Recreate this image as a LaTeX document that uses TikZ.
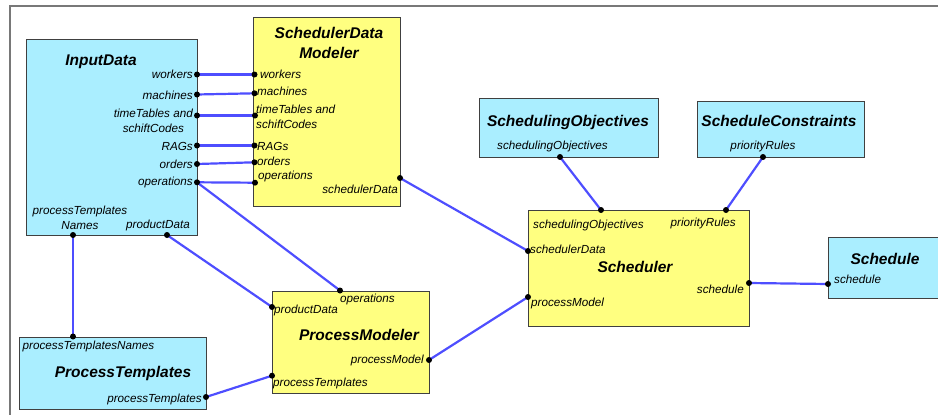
\documentclass[tikz,border=0pt]{standalone}
\usepackage{fontspec}
\setmainfont{Liberation Sans}
\definecolor{boxcyan}{RGB}{170,238,255}
\definecolor{boxyellow}{RGB}{255,255,128}
\definecolor{wireblue}{RGB}{78,78,255}
\definecolor{framegray}{RGB}{120,120,120}
\begin{document}
\begin{tikzpicture}[x=1pt,y=-1pt,
  blockbox/.style={draw=black!75,line width=1pt,anchor=north west,inner sep=0pt},
  cyanbox/.style={blockbox,fill=boxcyan},
  yellowbox/.style={blockbox,fill=boxyellow},
  lbl/.style={inner sep=0pt,font=\fontsize{11.7}{15}\selectfont\itshape},
  ttl/.style={inner sep=0pt,font=\fontsize{15.5}{20}\selectfont\bfseries\itshape},
  wire/.style={draw=wireblue,line width=2.2pt},
  portdot/.style={circle,fill=black,inner sep=0pt,minimum size=6pt}]
\useasboundingbox (0,0) rectangle (938,415);
\clip (0,0) rectangle (938,415);
% outer frame
\draw[framegray,line width=2pt] (9.5,425) -- (9.5,6) -- (945,6);

% blocks
\node[cyanbox,minimum width=171pt,minimum height=196pt] (inp) at (26,39) {};
\node[yellowbox,minimum width=147pt,minimum height=189pt] (sdm) at (253,17) {};
\node[cyanbox,minimum width=187pt,minimum height=72pt] (ptm) at (19,337) {};
\node[yellowbox,minimum width=157pt,minimum height=102pt] (pmd) at (272,291) {};
\node[cyanbox,minimum width=179pt,minimum height=59pt] (sob) at (479,98) {};
\node[cyanbox,minimum width=167pt,minimum height=56pt] (scn) at (697,101) {};
\node[yellowbox,minimum width=221pt,minimum height=116pt] (sch) at (528,210) {};
\node[cyanbox,minimum width=116pt,minimum height=61pt] (sdl) at (828,237) {};

% titles
\node[ttl] (inp-t) at (101,62) {InputData};
\node[ttl,align=center] (sdm-t) at (329,43) {SchedulerData\\Modeler};
\node[ttl] (ptm-t) at (123,373) {ProcessTemplates};
\node[ttl] (pmd-t) at (359,335) {ProcessModeler};
\node[ttl] (sob-t) at (568,122) {SchedulingObjectives};
\node[ttl] (scn-t) at (779,121) {ScheduleConstraints};
\node[ttl] (sch-t) at (635,267) {Scheduler};
\node[ttl] (sdl-t) at (885,259) {Schedule};

% port labels: InputData
\node[lbl,anchor=east] (l1) at (193,74) {workers};
\node[lbl,anchor=east] (l2) at (193,95) {machines};
\node[lbl,anchor=east,align=center] (l3) at (193,120.5) {timeTables and\\schiftCodes};
\node[lbl,anchor=east] (l4) at (193,146.5) {RAGs};
\node[lbl,anchor=east] (l5) at (193,164) {orders};
\node[lbl,anchor=east] (l6) at (193,182) {operations};
\node[lbl,align=center] (l7) at (80,217.5) {processTemplates\\Names};
\node[lbl] (l8) at (158,225) {productData};
% port labels: SchedulerData Modeler
\node[lbl,anchor=west] (m1) at (260,74) {workers};
\node[lbl,anchor=west] (m2) at (257,91) {machines};
\node[lbl,anchor=west,align=left] (m3) at (256,117) {timeTables and\\schiftCodes};
\node[lbl,anchor=west] (m4) at (257,146) {RAGs};
\node[lbl,anchor=west] (m5) at (257,161) {orders};
\node[lbl,anchor=west] (m6) at (258,176) {operations};
\node[lbl,anchor=east] (m7) at (398,189) {schedulerData};
% port labels: ProcessTemplates
\node[lbl,anchor=west] (p1) at (22.5,346) {processTemplatesNames};
\node[lbl,anchor=east] (p2) at (202,399) {processTemplates};
% port labels: ProcessModeler
\node[lbl,anchor=west] (q1) at (340,299) {operations};
\node[lbl,anchor=west] (q2) at (274,310) {productData};
\node[lbl,anchor=east] (q3) at (424,360) {processModel};
\node[lbl,anchor=west] (q4) at (273,383) {processTemplates};
% port labels: objectives, constraints
\node[lbl] (s1) at (552.5,146) {schedulingObjectives};
\node[lbl] (s2) at (763,146) {priorityRules};
% port labels: Scheduler
\node[lbl,anchor=west] (r1) at (533,225) {schedulingObjectives};
\node[lbl,anchor=west] (r2) at (670.5,223) {priorityRules};
\node[lbl,anchor=west] (r3) at (530,249) {schedulerData};
\node[lbl,anchor=east] (r4) at (744,289) {schedule};
\node[lbl,anchor=west] (r5) at (531,303) {processModel};
% port label: Schedule
\node[lbl,anchor=west] (d1) at (834,279) {schedule};

% port positions
\coordinate (iw) at (197,74.5);
\coordinate (im) at (197,94.5);
\coordinate (it) at (197,115.5);
\coordinate (ir) at (197,145.5);
\coordinate (io) at (197,164);
\coordinate (iop) at (197,182.3);
\coordinate (ipn) at (73,235);
\coordinate (ipd) at (167,235);
\coordinate (dw) at (254.5,74.5);
\coordinate (dm) at (254.5,93.3);
\coordinate (dt) at (255,115.5);
\coordinate (dr) at (254.5,145.5);
\coordinate (do) at (254.5,162.3);
\coordinate (dop) at (255,182.7);
\coordinate (dsd) at (400,178);
\coordinate (tpn) at (73,336.5);
\coordinate (tpt) at (206,397);
\coordinate (mop) at (340,290.5);
\coordinate (mpd) at (272,307);
\coordinate (mpt) at (272,375.7);
\coordinate (mpm) at (429,360);
\coordinate (oso) at (560,157);
\coordinate (cpr) at (763,157);
\coordinate (sso) at (601,210);
\coordinate (spr) at (726,210);
\coordinate (ssd) at (528,251);
\coordinate (spm) at (528,297);
\coordinate (ssc) at (749,283);
\coordinate (lsc) at (828,284);

% connectors
\draw[wire] (iw) -- (dw);
\draw[wire] (im) -- (dm);
\draw[wire] (it) -- (dt);
\draw[wire] (ir) -- (dr);
\draw[wire] (io) -- (do);
\draw[wire] (iop) -- (dop);
\draw[wire] (iop) -- (mop);
\draw[wire] (ipd) -- (mpd);
\draw[wire] (ipn) -- (tpn);
\draw[wire] (tpt) -- (mpt);
\draw[wire] (dsd) -- (ssd);
\draw[wire] (mpm) -- (spm);
\draw[wire] (oso) -- (sso);
\draw[wire] (cpr) -- (spr);
\draw[wire] (ssc) -- (lsc);

% port dots
\foreach \p in {iw,im,it,ir,io,iop,ipn,ipd,dw,dm,dt,dr,do,dop,dsd,tpn,tpt,mop,mpd,mpt,mpm,oso,cpr,sso,spr,ssd,spm,ssc,lsc}
  \node[portdot] at (\p) {};
\end{tikzpicture}
\end{document}
